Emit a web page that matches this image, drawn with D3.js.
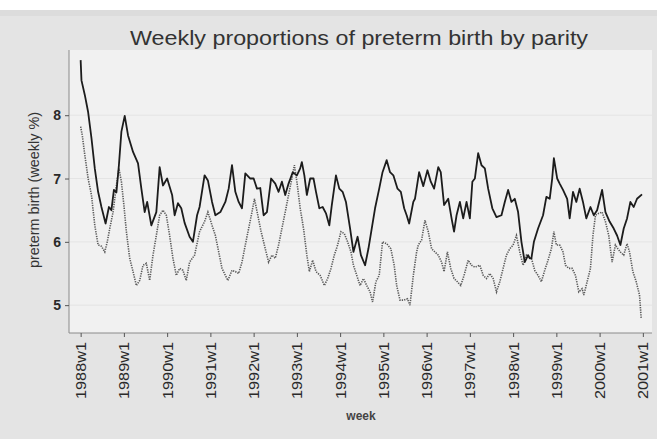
<!DOCTYPE html>
<html>
<head>
<meta charset="utf-8">
<script src="https://cdn.jsdelivr.net/npm/d3@7"></script>
<style>
  html, body { margin: 0; padding: 0; background: #ffffff; }
  svg { display: block; font-family: "Liberation Sans", Arial, sans-serif; }
</style>
</head>
<body>
<svg id="chart" width="657" height="439"></svg>
<script>
// ---- data (weeks counted from 1988w1, 52 weeks per year) ----
const titleText = "Weekly proportions of preterm birth by parity";
const yAxisTitle = "preterm birth (weekly %)";
const xAxisTitle = "week";
const yTickValues = [5, 6, 7, 8];
const xTickLabels = ["1988w1","1989w1","1990w1","1991w1","1992w1","1993w1","1994w1",
                     "1995w1","1996w1","1997w1","1998w1","1999w1","2000w1","2001w1"];

// solid series
const solidWeeks = [0,1,5,9,13,17,21,25,30,34,37,40,43,46,49,53,57,63,69,73,77,80,85,91,95,99,104,110,113,117,121,125,131,135,140,143,149,153,158,162,168,174,178,182,186,190,194,198,204,208,212,216,220,224,229,234,238,242,246,250,255,260,264,266,269,272,276,280,283,287,291,295,299,302,307,311,315,319,324,328,333,337,342,346,350,354,359,363,368,372,376,381,385,389,392,395,400,402,407,412,417,421,425,430,433,437,442,446,449,452,456,460,464,468,471,474,478,482,486,490,495,500,506,510,514,518,522,526,530,534,538,540,542,545,550,556,560,564,567,569,573,576,580,585,588,592,596,600,604,608,613,617,621,627,631,636,641,645,649,653,657,661,665,669,675];
const solidValues = [8.87,8.55,8.32,8.05,7.64,7.16,6.79,6.55,6.29,6.55,6.50,6.82,6.78,7.21,7.74,7.99,7.68,7.42,7.24,6.84,6.47,6.63,6.26,6.47,7.18,6.89,7.00,6.74,6.42,6.61,6.53,6.30,6.08,6.00,6.42,6.55,7.05,6.97,6.63,6.42,6.47,6.63,6.84,7.21,6.79,6.63,6.53,7.08,7.00,7.00,6.84,6.85,6.42,6.47,7.00,6.92,6.79,6.95,6.74,6.92,7.10,7.05,7.16,7.26,7.05,6.74,7.00,7.00,6.79,6.53,6.55,6.45,6.26,6.58,7.05,6.84,6.79,6.63,6.21,5.84,6.08,5.79,5.63,5.89,6.21,6.53,6.84,7.10,7.29,7.10,7.05,6.84,6.79,6.53,6.42,6.29,6.63,6.68,7.10,6.88,7.13,6.95,6.84,7.18,7.10,6.58,6.68,6.37,6.16,6.42,6.63,6.37,6.63,6.37,6.95,7.00,7.40,7.21,7.16,6.84,6.53,6.39,6.42,6.63,6.82,6.63,6.68,6.47,6.00,5.68,5.79,5.74,5.74,6.00,6.21,6.42,6.71,6.68,7.00,7.32,7.00,6.92,6.82,6.68,6.37,6.79,6.63,6.84,6.63,6.37,6.55,6.42,6.50,6.82,6.47,6.32,6.21,6.10,5.95,6.21,6.37,6.63,6.55,6.68,6.75];

// dotted series
const dottedWeeks = [0,2,5,9,13,17,21,25,29,32,35,39,43,46,49,52,55,59,63,67,71,75,79,83,87,91,95,99,103,107,111,115,119,123,127,131,137,143,149,153,158,162,166,170,174,177,182,186,190,194,198,202,206,209,213,217,222,226,230,234,238,242,246,250,254,257,260,264,268,272,275,279,283,288,293,297,301,305,309,313,317,321,325,328,332,336,340,344,348,351,355,359,363,368,373,377,380,384,389,393,396,400,404,406,410,414,418,422,426,430,434,437,441,445,449,453,457,461,466,470,474,480,484,488,492,496,500,504,508,512,516,520,524,528,532,536,540,542,546,550,554,558,562,566,569,572,576,580,583,587,591,595,599,603,605,609,613,616,619,623,627,631,635,639,643,646,649,653,657,660,664,668,672,674];
const dottedValues = [7.82,7.68,7.37,7.00,6.74,6.26,5.95,5.93,5.84,6.00,6.21,6.47,6.89,7.16,6.95,6.58,6.16,5.74,5.53,5.31,5.39,5.63,5.66,5.39,5.79,6.10,6.42,6.50,6.42,6.10,5.74,5.47,5.58,5.55,5.39,5.68,5.79,6.16,6.32,6.47,6.26,6.10,5.84,5.58,5.47,5.39,5.55,5.53,5.50,5.68,5.95,6.21,6.47,6.68,6.42,6.16,5.89,5.68,5.79,5.74,5.95,6.21,6.47,6.74,7.00,7.21,6.95,6.53,6.21,5.79,5.53,5.71,5.53,5.47,5.31,5.42,5.58,5.79,5.95,6.16,6.13,6.00,5.84,5.63,5.47,5.31,5.42,5.31,5.21,5.05,5.37,5.47,6.00,5.97,5.89,5.63,5.31,5.08,5.08,5.10,5.00,5.47,5.84,5.95,6.03,6.34,6.16,5.89,5.84,5.79,5.68,5.53,5.84,5.58,5.42,5.37,5.31,5.47,5.71,5.63,5.60,5.63,5.47,5.42,5.50,5.42,5.21,5.37,5.58,5.79,5.89,5.95,6.10,5.84,5.63,5.79,5.74,5.74,5.55,5.47,5.37,5.55,5.71,5.89,6.16,5.95,5.95,5.84,5.63,5.58,5.58,5.47,5.21,5.26,5.16,5.37,5.58,6.10,6.42,6.45,6.47,6.32,6.10,5.68,5.95,5.89,5.84,5.79,5.97,5.84,5.53,5.37,5.16,4.79];

// ---- drawing ----
const svg = d3.select("#chart");
const W = 657, H = 439;
const plot = { left: 69, right: 652, top: 50, bottom: 333 };

// backgrounds
svg.append("rect").attr("x", 0).attr("y", 0).attr("width", W).attr("height", H).attr("fill", "#ffffff");
svg.append("rect").attr("x", 0).attr("y", 10).attr("width", W).attr("height", H - 10).attr("fill", "#e4e4e4");
svg.append("rect").attr("x", 0).attr("y", 10).attr("width", W).attr("height", 6).attr("fill", "#dcdcdc");
svg.append("rect")
  .attr("x", plot.left).attr("y", plot.top)
  .attr("width", plot.right - plot.left).attr("height", plot.bottom - plot.top)
  .attr("fill", "#f1f1f1");

const x = d3.scaleLinear().domain([-14, 687]).range([plot.left, plot.right]);
const y = d3.scaleLinear().domain([4.56, 9.03]).range([plot.bottom, plot.top]);

// gridlines
svg.append("g").selectAll("line").data(yTickValues).join("line")
  .attr("x1", plot.left).attr("x2", plot.right)
  .attr("y1", d => y(d)).attr("y2", d => y(d))
  .attr("stroke", "#e4e4e4").attr("stroke-width", 1);

// y axis
const yAxis = d3.axisLeft(y).tickValues(yTickValues).tickSize(4).tickPadding(4).tickFormat(d3.format("d"));
const gy = svg.append("g").attr("transform", `translate(${plot.left},0)`).call(yAxis);
gy.select(".domain").attr("stroke", "#8a8a8a").attr("d", `M0,${plot.top}V${plot.bottom}`);
gy.selectAll(".tick line").attr("stroke", "#555");
gy.selectAll(".tick text").attr("fill", "#2a2a2a").attr("font-size", 14).attr("font-weight", "bold")
  .attr("font-family", "Liberation Sans, Arial, sans-serif");

// x axis
const xTickWeeks = xTickLabels.map((d, i) => i * 52);
const xAxis = d3.axisBottom(x).tickValues(xTickWeeks).tickSize(4)
  .tickFormat((d, i) => xTickLabels[i]);
const gx = svg.append("g").attr("transform", `translate(0,${plot.bottom})`).call(xAxis);
gx.select(".domain").attr("stroke", "#8a8a8a").attr("d", `M${plot.left},0H${plot.right}`);
gx.selectAll(".tick line").attr("stroke", "#555");
gx.selectAll(".tick text")
  .attr("fill", "#2a2a2a").attr("font-size", 14)
  .attr("font-family", "Liberation Sans, Arial, sans-serif")
  .attr("transform", "rotate(-90)")
  .attr("text-anchor", "end")
  .attr("x", -9).attr("y", 0).attr("dy", "0.35em")
  .attr("textLength", 57).attr("lengthAdjust", "spacingAndGlyphs");

// lines
const line = d3.line().x(d => x(d[0])).y(d => y(d[1]));
const dottedData = dottedWeeks.map((w, i) => [w, dottedValues[i]]);
const solidData = solidWeeks.map((w, i) => [w, solidValues[i]]);

svg.append("path").datum(dottedData).attr("d", line)
  .attr("fill", "none").attr("stroke", "#5a5a5a").attr("stroke-width", 1.6)
  .attr("stroke-dasharray", "1.3,1.1");
svg.append("path").datum(solidData).attr("d", line)
  .attr("fill", "none").attr("stroke", "#1c1c1c").attr("stroke-width", 1.8)
  .attr("stroke-linejoin", "round");

// titles
svg.append("text").attr("x", 359).attr("y", 45).attr("text-anchor", "middle")
  .attr("font-size", 20).attr("fill", "#333")
  .attr("textLength", 458).attr("lengthAdjust", "spacingAndGlyphs")
  .text(titleText);

svg.append("text")
  .attr("transform", `translate(39,190) rotate(-90)`)
  .attr("text-anchor", "middle").attr("font-size", 14).attr("fill", "#333")
  .attr("textLength", 156).attr("lengthAdjust", "spacingAndGlyphs")
  .text(yAxisTitle);

svg.append("text").attr("x", 361).attr("y", 420).attr("text-anchor", "middle")
  .attr("font-size", 12).attr("font-weight", "bold").attr("fill", "#444")
  .text(xAxisTitle);
</script>
</body>
</html>
